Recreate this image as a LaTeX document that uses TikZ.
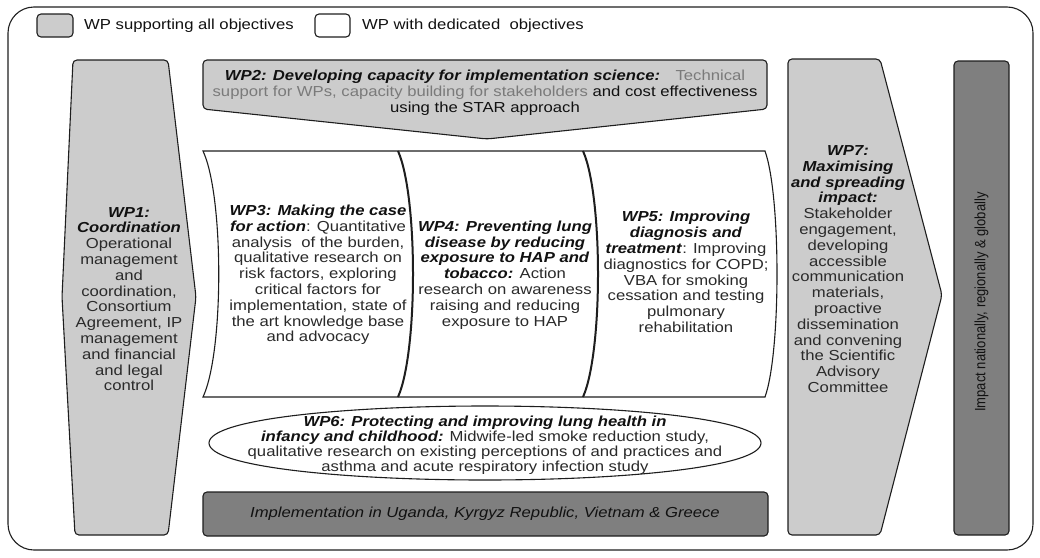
\documentclass[tikz,border=0pt]{standalone}
\usepackage{fontspec}
\setmainfont{Liberation Sans}[FakeStretch=1.15]
\newfontfamily\plainsans{Liberation Sans}
\usetikzlibrary{shapes.geometric}
\definecolor{lightfill}{HTML}{CCCCCC}
\definecolor{darkfill}{HTML}{7F7F7F}
\definecolor{edge}{HTML}{1E1E1E}
\definecolor{bodytext}{HTML}{2A2A2A}
\definecolor{headtext}{HTML}{111111}
\definecolor{softtext}{HTML}{7A7A7A}
\newcommand{\wpbi}[1]{{\color{headtext}\textbf{\textit{#1}}}}
\begin{document}
\begin{tikzpicture}[x=1pt,y=-1pt,
  outline/.style={draw=edge,line width=1.1pt,rounded corners=4pt},
  lightshape/.style={outline,fill=lightfill},
  darkshape/.style={outline,fill=darkfill},
  wptext/.style={align=center,text=bodytext,font=\fontsize{14.5}{15.8}\selectfont,inner sep=0pt},
  legendtext/.style={anchor=west,text=headtext,font=\fontsize{14.5}{15.8}\selectfont,inner sep=0pt},
  divider/.style={draw=edge,line width=2pt},
  ]
\useasboundingbox (0,0) rectangle (1040,557);
% outer frame
\draw[draw=edge,line width=1.1pt,rounded corners=26pt] (8,7) rectangle (1033,550);

% legend
\draw[lightshape] (37,14) rectangle (73,37);
\node[legendtext] (legA) at (84,25.5) {WP supporting all objectives};
\draw[outline,fill=white] (315,14) rectangle (350,37);
\node[legendtext] (legB) at (362,25.5) {WP with dedicated~ objectives};

% WP1
\draw[lightshape] (73,60) -- (168,60) -- (196,297) -- (168,535) -- (75,535) -- (62,297) -- cycle;
\node[wptext] (wp1) at (129,299) {\wpbi{WP1:}\\ \wpbi{Coordination}\\ Operational\\ management\\ and\\ coordination,\\ Consortium\\ Agreement, IP\\ management\\ and financial\\ and legal\\ control};

% WP7
\draw[lightshape] (788,59) -- (880,59) -- (942,295) -- (880,535) -- (788,535) -- cycle;
\node[wptext] (wp7) at (848,269) {\wpbi{WP7:}\\ \wpbi{Maximising}\\ \wpbi{and spreading}\\ \wpbi{impact:}\\ Stakeholder\\ engagement,\\ developing\\ accessible\\ communication\\ materials,\\ proactive\\ dissemination\\ and convening\\ the Scientific\\ Advisory\\ Committee};

% Impact bar
\draw[darkshape] (954,61) rectangle (1009,535);
\node[rotate=90,text=headtext,inner sep=0pt,font=\plainsans\fontsize{13}{15}\selectfont] (impact) at (981.5,302) {\scalebox{1}[1.15]{Impact nationally, regionally \& globally}};

% WP2
\draw[lightshape] (203,60) -- (767,60) -- (767,109) -- (487,139) -- (203,109) -- cycle;
\node[wptext] (wp2) at (485,93) {\wpbi{WP2: Developing capacity for implementation science:}~~ {\color{softtext}Technical}\\ {\color{softtext}support for WPs, capacity building for stakeholders} {\color{headtext}and cost effectiveness}\\ {\color{headtext}using the STAR approach}};

% cylinder
\draw[draw=edge,line width=1.1pt,fill=white] (203,151) -- (765,151) .. controls (781,196) and (781,352) .. (765,397) -- (203,397) .. controls (224,352) and (224,196) .. (203,151) -- cycle;
\draw[divider] (398,151) .. controls (418,196) and (418,352) .. (398,397);
\draw[divider] (583,151) .. controls (603,196) and (603,352) .. (583,397);

\node[wptext] (wp3) at (318,275) {\wpbi{WP3: Making the case}\\ \wpbi{for action}: Quantitative\\ analysis~ of the burden,\\ qualitative research on\\ risk factors, exploring\\ critical factors for\\ implementation, state of\\ the art knowledge base\\ and advocacy};
\node[wptext] (wp4) at (505,275) {\wpbi{WP4: Preventing lung}\\ \wpbi{disease by reducing}\\ \wpbi{exposure to HAP and}\\ \wpbi{tobacco:} Action\\ research on awareness\\ raising and reducing\\ exposure to HAP};
\node[wptext] (wp5) at (686,272) {\wpbi{WP5: Improving}\\ \wpbi{diagnosis and}\\ \wpbi{treatment}: Improving\\ diagnostics for COPD;\\ VBA for smoking\\ cessation and testing\\ pulmonary\\ rehabilitation};

% WP6
\draw[draw=edge,line width=1.1pt,fill=white] (209,443) .. controls (209,419) and (345,406) .. (485,406) .. controls (625,406) and (761,419) .. (761,443) .. controls (761,467) and (625,480) .. (485,480) .. controls (345,480) and (209,467) .. (209,443) -- cycle;
\node[wptext,font=\fontsize{14.5}{15}\selectfont] (wp6) at (485,445) {\wpbi{WP6: Protecting and improving lung health in}\\ \wpbi{infancy and childhood:} Midwife-led smoke reduction study,\\ qualitative research on existing perceptions of and practices and\\ asthma and acute respiratory infection study};

% Implementation bar
\draw[darkshape] (203,492) rectangle (768,536);
\node[wptext,text=headtext] (impl) at (485,514) {\textit{Implementation in Uganda, Kyrgyz Republic, Vietnam \& Greece}};
\end{tikzpicture}
\end{document}
